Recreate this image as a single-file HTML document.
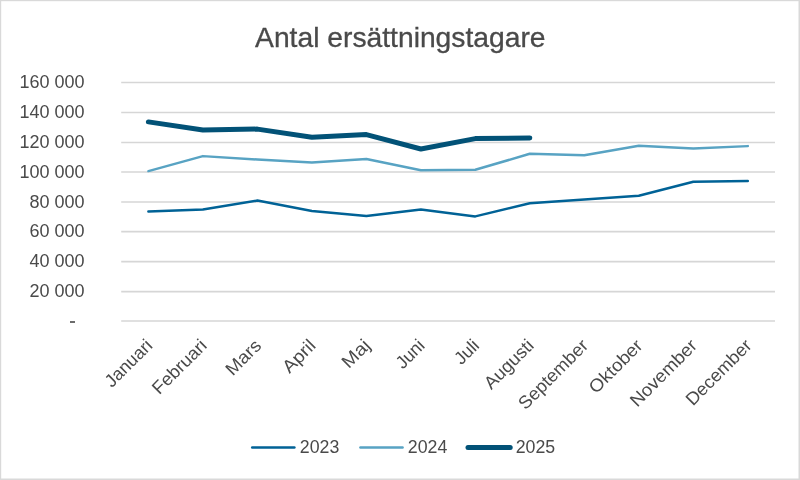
<!DOCTYPE html>
<html lang="sv"><head><meta charset="utf-8"><title>Antal ersättningstagare</title>
<style>
html,body{margin:0;padding:0;background:#fff;}
body{width:800px;height:480px;overflow:hidden;}
svg{display:block;will-change:transform;}
text{font-family:"Liberation Sans",sans-serif;fill:#4a4a4a;}
</style></head><body>
<svg width="800" height="480" viewBox="0 0 800 480">
<rect x="0" y="0" width="800" height="480" fill="#ffffff"/>
<g>
<!-- frame -->
<rect x="0" y="0" width="800" height="1.2" fill="#d9d9d9"/>
<rect x="0" y="0" width="1.2" height="480" fill="#d9d9d9"/>
<rect x="798.5" y="0" width="1.5" height="480" fill="#d9d9d9"/>
<rect x="0" y="478.5" width="800" height="1.5" fill="#d9d9d9"/>
<!-- title -->
<text x="400.3" y="47" font-size="28" fill="#464646" stroke="#464646" stroke-width="0.3" text-anchor="middle" textLength="290.5" lengthAdjust="spacingAndGlyphs">Antal ersättningstagare</text>
<!-- gridlines -->
<g stroke="#d6d6d6" stroke-width="1.55">
<line x1="121.2" y1="82.40" x2="775.0" y2="82.40"/>
<line x1="121.2" y1="112.45" x2="775.0" y2="112.45"/>
<line x1="121.2" y1="142.45" x2="775.0" y2="142.45"/>
<line x1="121.2" y1="172.05" x2="775.0" y2="172.05"/>
<line x1="121.2" y1="202.05" x2="775.0" y2="202.05"/>
<line x1="121.2" y1="231.60" x2="775.0" y2="231.60"/>
<line x1="121.2" y1="261.60" x2="775.0" y2="261.60"/>
<line x1="121.2" y1="291.60" x2="775.0" y2="291.60"/>
<line x1="121.2" y1="321.00" x2="775.0" y2="321.00"/>
</g>
<g font-size="18" text-anchor="end">
<text x="84.6" y="88">160 000</text>
<text x="84.6" y="118">140 000</text>
<text x="84.6" y="148">120 000</text>
<text x="84.6" y="178">100 000</text>
<text x="84.6" y="208">80 000</text>
<text x="84.6" y="237">60 000</text>
<text x="84.6" y="267">40 000</text>
<text x="84.6" y="297">20 000</text>
</g>
<rect x="70" y="321.1" width="5" height="1.8" fill="#5c5c5c"/>
<g fill="none" stroke-linecap="round" stroke-linejoin="round">
<polyline stroke="#006296" stroke-width="2.5" points="148.4,211.4 202.9,209.6 257.4,200.6 311.9,211.0 366.4,216.0 420.9,209.6 475.3,216.4 529.8,203.2 584.3,199.4 638.8,195.8 693.3,181.7 747.8,180.9"/>
<polyline stroke="#58a3c3" stroke-width="2.45" points="148.4,171.1 202.9,156.1 257.4,159.5 311.9,162.5 366.4,159.0 420.9,170.2 475.3,169.8 529.8,153.8 584.3,155.2 638.8,145.8 693.3,148.5 747.8,146.1"/>
<polyline stroke="#025277" stroke-width="5" points="148.4,121.9 202.9,130.0 257.4,129.1 311.9,137.2 366.4,134.6 420.9,149.0 475.3,138.6 529.8,137.9"/>
</g>
<g font-size="18" text-anchor="end">
<text transform="translate(153.44 346.70) rotate(-45)" textLength="58.6" lengthAdjust="spacingAndGlyphs">Januari</text>
<text transform="translate(207.93 346.70) rotate(-45)" textLength="68.8" lengthAdjust="spacingAndGlyphs">Februari</text>
<text transform="translate(262.41 346.70) rotate(-45)" textLength="42.0" lengthAdjust="spacingAndGlyphs">Mars</text>
<text transform="translate(316.89 346.70) rotate(-45)" textLength="38.7" lengthAdjust="spacingAndGlyphs">April</text>
<text transform="translate(371.38 346.70) rotate(-45)" textLength="32.0" lengthAdjust="spacingAndGlyphs">Maj</text>
<text transform="translate(425.86 346.70) rotate(-45)" textLength="32.5" lengthAdjust="spacingAndGlyphs">Juni</text>
<text transform="translate(480.34 346.70) rotate(-45)" textLength="26.6" lengthAdjust="spacingAndGlyphs">Juli</text>
<text transform="translate(534.82 346.70) rotate(-45)" textLength="61.6" lengthAdjust="spacingAndGlyphs">Augusti</text>
<text transform="translate(589.31 346.70) rotate(-45)" textLength="90.2" lengthAdjust="spacingAndGlyphs">September</text>
<text transform="translate(643.79 346.70) rotate(-45)" textLength="67.5" lengthAdjust="spacingAndGlyphs">Oktober</text>
<text transform="translate(698.27 346.70) rotate(-45)" textLength="86.3" lengthAdjust="spacingAndGlyphs">November</text>
<text transform="translate(752.76 346.70) rotate(-45)" textLength="84.6" lengthAdjust="spacingAndGlyphs">December</text>
</g>
<g fill="none" stroke-linecap="round">
<line x1="252.2" y1="447.4" x2="294.4" y2="447.4" stroke="#006296" stroke-width="2.5"/>
<line x1="360.4" y1="447.4" x2="402.6" y2="447.4" stroke="#58a3c3" stroke-width="2.45"/>
<line x1="468.0" y1="447.4" x2="510.2" y2="447.4" stroke="#025277" stroke-width="5"/>
</g>
<g font-size="18">
<text x="299.8" y="453" textLength="39.5" lengthAdjust="spacingAndGlyphs">2023</text>
<text x="407.8" y="453" textLength="39.5" lengthAdjust="spacingAndGlyphs">2024</text>
<text x="515.7" y="453" textLength="39.5" lengthAdjust="spacingAndGlyphs">2025</text>
</g>
</g>
</svg>
</body></html>
